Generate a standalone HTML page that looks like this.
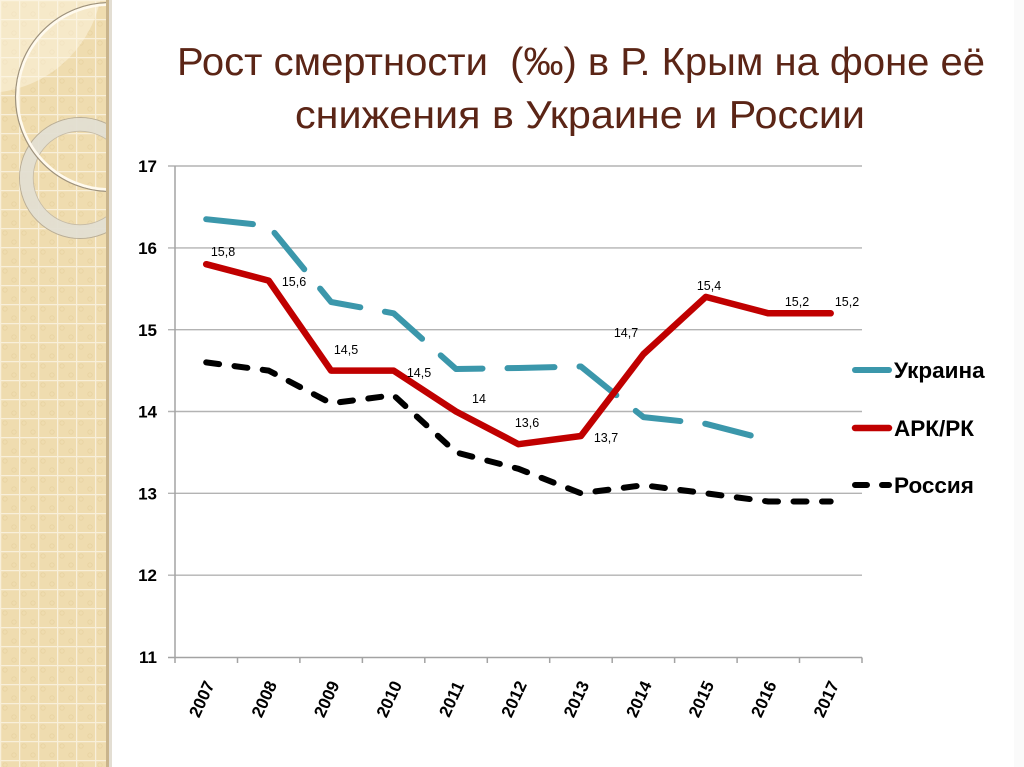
<!DOCTYPE html>
<html>
<head>
<meta charset="utf-8">
<style>
html,body{margin:0;padding:0;background:#fff;}
svg{display:block;}
text{font-family:"Liberation Sans","DejaVu Sans",sans-serif;}
</style>
</head>
<body>
<svg width="1024" height="767" viewBox="0 0 1024 767" xmlns="http://www.w3.org/2000/svg">
  <defs>
    <pattern id="grid" width="19" height="19" patternUnits="userSpaceOnUse">
      <rect width="19" height="19" fill="#efdcaf"/>
      <circle cx="5" cy="5" r="2.2" fill="none" stroke="#e8d3a2" stroke-width="0.8"/>
      <circle cx="14" cy="14" r="2.2" fill="none" stroke="#e8d3a2" stroke-width="0.8"/>
      <path d="M0 0.6H19M0.6 0V19" stroke="#f8efd9" stroke-width="1.3"/>
    </pattern>
    <clipPath id="strip"><rect x="0" y="0" width="107" height="767"/></clipPath>
  </defs>

  <!-- background -->
  <rect width="1024" height="767" fill="#ffffff"/>
  <rect x="1014" y="0" width="10" height="767" fill="#fafafa"/>

  <!-- left decorative strip -->
  <rect x="0" y="0" width="107" height="767" fill="url(#grid)"/>
  <g clip-path="url(#strip)">
    <circle cx="-15" cy="-25" r="118" fill="#fff8e8" opacity="0.45"/>
    <circle cx="80" cy="178" r="60.5" fill="none" stroke="#b9ae98" stroke-width="1"/>
    <circle cx="80" cy="178" r="53.5" fill="none" stroke="#e2ded3" stroke-width="13" opacity="0.92"/>
    <circle cx="80" cy="178" r="46.8" fill="none" stroke="#c4baa6" stroke-width="0.8"/>
    <circle cx="110" cy="97" r="94.5" fill="none" stroke="#9d917c" stroke-width="1.2"/>
    <circle cx="110" cy="97" r="92.5" fill="none" stroke="#fffaee" stroke-width="2.6"/>
  </g>
  <rect x="106" y="0" width="3" height="767" fill="#c9b48c"/>
  <rect x="109" y="0" width="3" height="767" fill="#e3ded3"/>

  <!-- title -->
  <text x="177" y="75" font-size="39" fill="#5b2516" textLength="808" lengthAdjust="spacingAndGlyphs" style="white-space:pre">Рост смертности  (‰) в Р. Крым на фоне её</text>
  <text x="295" y="128" font-size="39" fill="#5b2516" textLength="570" lengthAdjust="spacingAndGlyphs">снижения в Украине и России</text>

  <!-- gridlines -->
  <g stroke="#b3b3b3" stroke-width="1.4">
    <line x1="168" y1="166" x2="862" y2="166"/>
    <line x1="168" y1="247.9" x2="862" y2="247.9"/>
    <line x1="168" y1="329.7" x2="862" y2="329.7"/>
    <line x1="168" y1="411.5" x2="862" y2="411.5"/>
    <line x1="168" y1="493.3" x2="862" y2="493.3"/>
    <line x1="168" y1="575.2" x2="862" y2="575.2"/>
  </g>
  <!-- axes -->
  <g stroke="#a3a3a3" stroke-width="1.5">
    <line x1="175" y1="166" x2="175" y2="657.5"/>
    <line x1="168" y1="657.5" x2="862" y2="657.5"/>
    <line x1="175" y1="657.5" x2="175" y2="663"/>
    <line x1="237.5" y1="657.5" x2="237.5" y2="663"/>
    <line x1="299.9" y1="657.5" x2="299.9" y2="663"/>
    <line x1="362.4" y1="657.5" x2="362.4" y2="663"/>
    <line x1="424.8" y1="657.5" x2="424.8" y2="663"/>
    <line x1="487.3" y1="657.5" x2="487.3" y2="663"/>
    <line x1="549.7" y1="657.5" x2="549.7" y2="663"/>
    <line x1="612.2" y1="657.5" x2="612.2" y2="663"/>
    <line x1="674.6" y1="657.5" x2="674.6" y2="663"/>
    <line x1="737.1" y1="657.5" x2="737.1" y2="663"/>
    <line x1="799.5" y1="657.5" x2="799.5" y2="663"/>
    <line x1="862" y1="657.5" x2="862" y2="663"/>
  </g>

  <!-- y labels -->
  <g font-size="17" font-weight="bold" fill="#000" text-anchor="end">
    <text x="157" y="172">17</text>
    <text x="157" y="254">16</text>
    <text x="157" y="336">15</text>
    <text x="157" y="417.5">14</text>
    <text x="157" y="499.5">13</text>
    <text x="157" y="581">12</text>
    <text x="157" y="663">11</text>
  </g>

  <!-- x labels -->
  <g font-size="17" font-weight="bold" fill="#000" text-anchor="middle">
    <text transform="translate(201.5,699) rotate(-65)" dy="6">2007</text>
    <text transform="translate(264,699) rotate(-65)" dy="6">2008</text>
    <text transform="translate(326.4,699) rotate(-65)" dy="6">2009</text>
    <text transform="translate(388.9,699) rotate(-65)" dy="6">2010</text>
    <text transform="translate(451.3,699) rotate(-65)" dy="6">2011</text>
    <text transform="translate(513.8,699) rotate(-65)" dy="6">2012</text>
    <text transform="translate(576.2,699) rotate(-65)" dy="6">2013</text>
    <text transform="translate(638.7,699) rotate(-65)" dy="6">2014</text>
    <text transform="translate(701.1,699) rotate(-65)" dy="6">2015</text>
    <text transform="translate(763.6,699) rotate(-65)" dy="6">2016</text>
    <text transform="translate(826,699) rotate(-65)" dy="6">2017</text>
  </g>

  <!-- series: Ukraine -->
  <path d="M206.2,219.2 L268.7,225.8 L331.1,302 L393.6,313.3 L456,369 L518.5,368 L580.9,366.5 L643.4,417.1 L705.8,423.8 L768.3,440"
        fill="none" stroke="#3b97ab" stroke-width="6" stroke-linecap="round" stroke-linejoin="round" stroke-dasharray="47 25"/>
  <!-- series: АРК/РК -->
  <path d="M206.2,264.2 L268.7,280.6 L331.1,370.6 L393.6,370.6 L456,411.5 L518.5,444.2 L580.9,436 L643.4,354.2 L705.8,296.9 L768.3,313.3 L830.7,313.3"
        fill="none" stroke="#c00000" stroke-width="6.5" stroke-linecap="round" stroke-linejoin="round"/>
  <!-- series: Россия -->
  <path d="M206.2,362.4 L268.7,370.6 L331.1,403.3 L393.6,395.2 L456,452.4 L518.5,468.8 L580.9,493.3 L643.4,485.2 L705.8,493.3 L768.3,501.5 L830.7,501.5"
        fill="none" stroke="#000" stroke-width="6" stroke-linecap="round" stroke-linejoin="round" stroke-dasharray="13 15.5"/>

  <!-- data labels -->
  <g font-size="12.5" fill="#000" text-anchor="middle">
    <text x="223" y="256">15,8</text>
    <text x="294" y="286">15,6</text>
    <text x="346" y="354">14,5</text>
    <text x="419" y="377">14,5</text>
    <text x="479" y="403">14</text>
    <text x="527" y="427">13,6</text>
    <text x="606" y="442">13,7</text>
    <text x="626" y="337">14,7</text>
    <text x="709" y="290">15,4</text>
    <text x="797" y="306">15,2</text>
    <text x="847" y="306">15,2</text>
  </g>

  <!-- legend -->
  <line x1="855" y1="370" x2="889" y2="370" stroke="#3b97ab" stroke-width="6" stroke-linecap="round"/>
  <line x1="855" y1="428" x2="889" y2="428" stroke="#c00000" stroke-width="6.5" stroke-linecap="round"/>
  <line x1="855" y1="485" x2="889" y2="485" stroke="#000" stroke-width="6" stroke-linecap="round" stroke-dasharray="12 15"/>
  <g font-size="22.5" font-weight="bold" fill="#000">
    <text x="894" y="378">Украина</text>
    <text x="894" y="436">АРК/РК</text>
    <text x="894" y="493">Россия</text>
  </g>
</svg>
</body>
</html>
